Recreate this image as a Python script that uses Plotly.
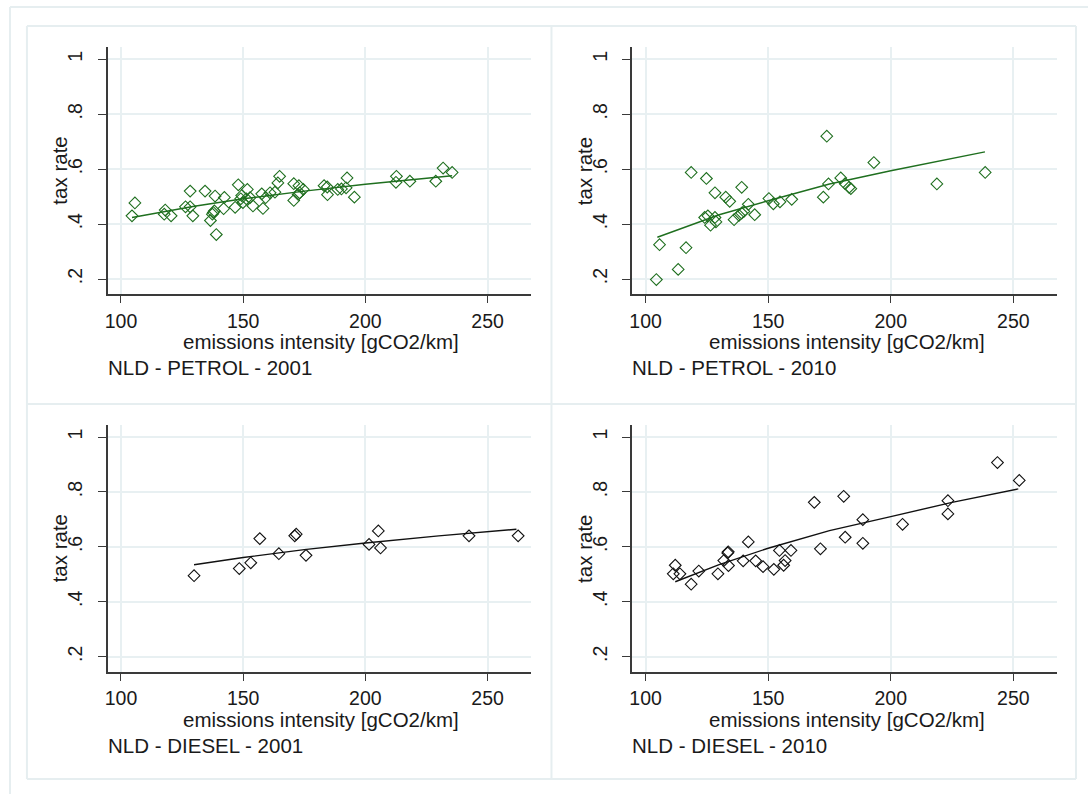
import plotly.graph_objects as go

W, H = 1088, 794

# ---------------- data ----------------
p01_x = [104.5, 105.7, 118.1, 117.7, 120.5, 126.4, 128.3, 128.3, 129.4, 134.4, 138.5, 142.3, 142.0,
         138.2, 137.4, 136.6, 139.0, 137.8, 148.0, 151.7, 149.4, 149.9, 151.3, 152.8, 149.0, 146.7,
         154.0, 158.1, 157.6, 159.2, 161.0, 163.0, 164.9, 164.2, 170.7, 172.8, 174.6, 170.7, 172.5,
         173.1, 183.1, 184.4, 184.5, 188.7, 190.2, 192.5, 192.1, 195.5, 212.7, 212.5, 218.2, 228.8,
         231.8, 235.5]
p01_y = [0.430, 0.477, 0.451, 0.436, 0.430, 0.463, 0.463, 0.520, 0.430, 0.520, 0.502, 0.497, 0.456,
         0.448, 0.436, 0.413, 0.362, 0.442, 0.543, 0.526, 0.504, 0.478, 0.492, 0.496, 0.492, 0.461,
         0.466, 0.457, 0.510, 0.496, 0.514, 0.516, 0.574, 0.550, 0.547, 0.540, 0.526, 0.486, 0.508,
         0.514, 0.540, 0.535, 0.507, 0.526, 0.528, 0.568, 0.532, 0.498, 0.574, 0.552, 0.556, 0.556,
         0.604, 0.588]
p01_fit_x = [104.5, 130, 150, 175, 200, 235.5]
p01_fit_y = [0.424, 0.465, 0.492, 0.520, 0.545, 0.576]

p10_x = [104.4, 105.7, 113.3, 116.5, 118.6, 124.8, 124.1, 125.4, 128.3, 126.5, 128.7, 128.3, 132.7,
         134.3, 139.2, 136.1, 138.1, 139.2, 140.1, 141.9, 144.5, 150.3, 152.1, 154.8, 159.6, 172.5,
         173.9, 174.6, 179.6, 181.4, 183.0, 183.7, 193.1, 218.8, 238.5]
p10_y = [0.198, 0.325, 0.235, 0.314, 0.588, 0.566, 0.424, 0.430, 0.424, 0.396, 0.408, 0.514, 0.498,
         0.483, 0.534, 0.416, 0.432, 0.440, 0.446, 0.472, 0.434, 0.493, 0.474, 0.481, 0.490, 0.498,
         0.720, 0.546, 0.568, 0.547, 0.534, 0.529, 0.624, 0.546, 0.588]
p10_fit_x = [104.8, 130, 150, 175, 200, 238.4]
p10_fit_y = [0.352, 0.434, 0.485, 0.546, 0.594, 0.663]

d01_x = [129.9, 148.4, 153.1, 156.8, 164.6, 171.1, 171.7, 175.7, 201.5, 205.3, 206.2, 242.4, 262.5]
d01_y = [0.495, 0.521, 0.542, 0.630, 0.575, 0.640, 0.646, 0.569, 0.609, 0.658, 0.596, 0.640, 0.640]
d01_fit_x = [129.9, 150, 175, 200, 230, 261.8]
d01_fit_y = [0.535, 0.561, 0.590, 0.614, 0.640, 0.664]

d10_x = [112.1, 111.3, 114.0, 118.6, 121.7, 129.5, 131.9, 133.5, 133.7, 133.8, 139.8, 141.9, 144.9,
         147.9, 152.3, 154.6, 156.3, 156.9, 159.3, 168.8, 171.3, 180.8, 181.4, 188.6, 188.6, 204.8,
         223.3, 223.3, 243.5, 252.4]
d10_y = [0.533, 0.502, 0.502, 0.464, 0.512, 0.502, 0.550, 0.578, 0.582, 0.532, 0.549, 0.618, 0.549,
         0.528, 0.518, 0.587, 0.533, 0.550, 0.587, 0.762, 0.593, 0.784, 0.635, 0.699, 0.613, 0.682,
         0.768, 0.720, 0.907, 0.842]
d10_fit_x = [112.1, 130, 150, 175, 200, 225, 252]
d10_fit_y = [0.473, 0.535, 0.595, 0.659, 0.710, 0.762, 0.811]

x_ticks = [100, 150, 200, 250]
x_tick_labels = ["100", "150", "200", "250"]
y_ticks = [0.2, 0.4, 0.6, 0.8, 1.0]
y_tick_labels = [".2", ".4", ".6", ".8", "1"]
panel_titles = ["NLD - PETROL - 2001", "NLD - PETROL - 2010", "NLD - DIESEL - 2001", "NLD - DIESEL - 2010"]
x_title = "emissions intensity [gCO2/km]"
y_title = "tax rate"

# ---------------- style ----------------
GREEN = "#1f6f1f"
BLACK = "#111111"
TEXT = "#1a1a1a"
GRID = "#e8f0f2"
AXIS = "#3a3a3a"
FONT = "Liberation Sans"
FS_TICK = 19.5
FS = 20.5

XR = [94.57, 267.7]
YR = [0.1443, 1.0437]

# panel plot rectangles in px: (left, right, top, bottom)
panels = [
    (105, 529.3, 47.3, 294.3),
    (631, 1056.7, 47.3, 294.3),
    (105, 529.3, 425.0, 672.0),
    (631, 1056.7, 425.0, 672.0),
]
series = [
    (p01_x, p01_y, p01_fit_x, p01_fit_y, GREEN),
    (p10_x, p10_y, p10_fit_x, p10_fit_y, GREEN),
    (d01_x, d01_y, d01_fit_x, d01_fit_y, BLACK),
    (d10_x, d10_y, d10_fit_x, d10_fit_y, BLACK),
]

def px(x):
    return x / W

def py(y):
    return 1 - y / H

fig = go.Figure()
annotations = []
layout_axes = {}

for i, ((l, r, t, b), (sx, sy, fx, fy, col)) in enumerate(zip(panels, series)):
    n = "" if i == 0 else str(i + 1)
    xa, ya = "x" + n, "y" + n
    fig.add_trace(go.Scatter(x=fx, y=fy, mode="lines", xaxis=xa, yaxis=ya,
                             line=dict(color=col, width=1.4), showlegend=False, hoverinfo="skip"))
    fig.add_trace(go.Scatter(x=sx, y=sy, mode="markers", xaxis=xa, yaxis=ya,
                             marker=dict(symbol="diamond-open", size=9, color=col, line=dict(width=1.1, color=col)),
                             showlegend=False))
    layout_axes["xaxis" + n] = dict(
        domain=[px(l), px(r)], anchor=ya, range=XR, tickvals=x_ticks, ticktext=x_tick_labels,
        showline=True, linecolor=AXIS, linewidth=1.6, ticks="outside", ticklen=7, tickwidth=1.4,
        tickcolor=AXIS, showgrid=True, gridcolor=GRID, gridwidth=1.6, zeroline=False,
        tickfont=dict(family=FONT, size=FS_TICK, color=TEXT), ticklabelstandoff=1, fixedrange=True)
    layout_axes["yaxis" + n] = dict(
        domain=[py(b), py(t)], anchor=xa, range=YR, tickvals=y_ticks, ticktext=y_tick_labels,
        showline=True, linecolor=AXIS, linewidth=1.6, ticks="outside", ticklen=8, tickwidth=1.4,
        tickcolor=AXIS, showgrid=True, gridcolor=GRID, gridwidth=1.6, zeroline=False,
        tickangle=-90, tickfont=dict(family=FONT, size=FS_TICK, color=TEXT), ticklabelstandoff=8,
        fixedrange=True)
    # axis titles and panel caption
    annotations.append(dict(text=x_title, x=px((l + r) / 2 + 2), y=py(b + 47), xref="paper", yref="paper",
                            xanchor="center", yanchor="middle", showarrow=False,
                            font=dict(family=FONT, size=FS, color=TEXT)))
    annotations.append(dict(text=y_title, x=px(l - 48), y=py((t + b) / 2), xref="paper", yref="paper",
                            xanchor="center", yanchor="middle", showarrow=False, textangle=-90,
                            font=dict(family=FONT, size=FS, color=TEXT)))
    annotations.append(dict(text=panel_titles[i], x=px(l - 2), y=py(b + 73), xref="paper", yref="paper",
                            xanchor="left", yanchor="middle", showarrow=False,
                            font=dict(family=FONT, size=FS, color=TEXT)))

shapes = []
FRAME = "#e6eef0"
def line(x0, y0, x1, y1, w=2):
    shapes.append(dict(type="line", xref="paper", yref="paper", x0=px(x0), y0=py(y0), x1=px(x1), y1=py(y1),
                       line=dict(color=FRAME, width=w), layer="below"))

# outer and inner frames
line(7, 7, 1088, 7)
line(7, 7, 7, 794)
line(24, 26, 1076, 26)
line(24, 26, 24, 779)
line(1076, 26, 1076, 779)
line(24, 779, 1076, 779)
line(550, 26, 550, 779)
line(24, 404, 1076, 404)

fig.update_layout(
    width=W, height=H, margin=dict(l=0, r=0, t=0, b=0),
    paper_bgcolor="white", plot_bgcolor="white",
    annotations=annotations, shapes=shapes, showlegend=False,
    **layout_axes,
)

fig.write_html("out.html")
